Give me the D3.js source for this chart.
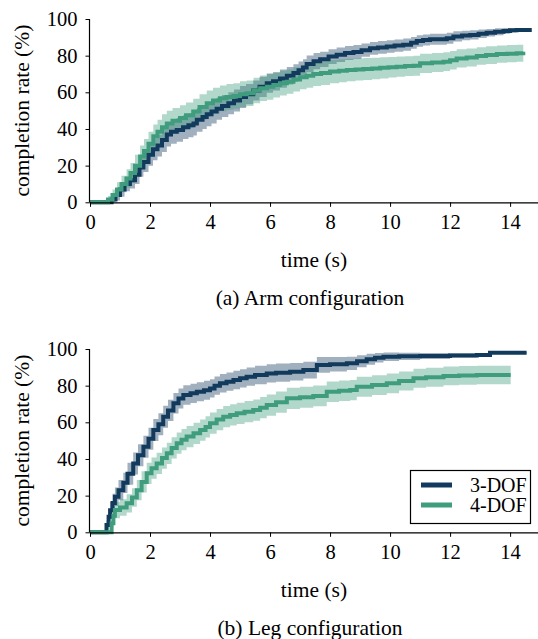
<!DOCTYPE html>
<html><head><meta charset="utf-8">
<script src="https://cdn.jsdelivr.net/npm/d3@7"></script>
<style>
body{margin:0;background:#fff;}
svg text{font-family:"Liberation Serif","Times New Roman",serif;fill:#000;}
</style></head><body>
<svg id="c" width="538" height="639"></svg>
<script>
// ---------- data ----------
const xTicks = [0, 2, 4, 6, 8, 10, 12, 14];
const yTicks = [0, 20, 40, 60, 80, 100];
const seriesNames = ["3-DOF", "4-DOF"];
const panelCaptions = ["(a) Arm configuration", "(b) Leg configuration"];

// Arm, 3-DOF
const arm3T = [0,0.72,0.85,1.0,1.15,1.33,1.5,1.65,1.78,1.95,2.1,2.25,2.4,2.56,2.7,2.89,3.1,3.28,3.45,3.56,3.75,3.89,4.05,4.22,4.4,4.61,4.8,5.0,5.2,5.44,5.65,5.89,6.1,6.33,6.56,6.78,6.95,7.1,7.22,7.45,7.67,7.95,8.22,8.5,8.78,9.05,9.33,9.6,9.89,10.15,10.44,10.7,10.89,11.1,11.33,11.89,12.11,12.4,12.67,12.95,13.22,13.5,13.78,14.0,14.22,14.72];
const arm3V = [0,1.5,4,7,10,12,15,19,22,26,29,31,34,37,38.5,39.5,41,42,43,45,46.5,48,49.5,51,52.5,54,55.5,57.5,59,61,63,65,66,67.5,69,70.5,72,73.5,75.5,77,78,79.5,80.5,81.5,82,83,84,84.5,85,85.5,86,87,88,88.5,89,89.5,90.5,91,91.3,92,92.5,93,93.5,93.8,94,94];
const arm3E = [0,1.5,3,4,4,4.5,5,5,5.5,6,6,6,6.5,6.5,6.5,6.5,6.5,6.5,6.5,6.5,6.5,6.5,6.5,6,6,6,6,6,5.5,5.5,5.5,5.2,5,5,4.8,4.8,4.8,4.6,4.6,4.4,4.2,4,4,3.8,3.8,3.6,3.5,3.5,3.4,3.3,3.3,3.2,3.2,3,3,3,2.8,2.6,2.5,2.3,2.1,1.9,1.6,1.2,0.8,0.4];

// Arm, 4-DOF
const arm4T = [0,0.6,0.75,0.9,1.05,1.22,1.35,1.5,1.67,1.8,1.95,2.11,2.25,2.4,2.56,2.75,3.0,3.2,3.44,3.65,3.89,4.1,4.33,4.55,4.78,5.0,5.22,5.45,5.67,5.9,6.11,6.33,6.56,6.78,7.0,7.22,7.44,7.7,8.0,8.3,8.56,8.85,9.11,9.4,9.67,9.95,10.22,10.5,10.78,11.0,11.4,11.78,12.0,12.22,12.55,12.89,13.2,13.56,13.9,14.22,14.44];
const arm4V = [0,1.5,4,7,10,13,16,20,25,28,32,36,38.5,41,43,44.5,46,47.5,49.5,52,54,55.5,56.7,57.5,58,59,59.5,61,62.2,63,64,65,65.8,67,68.2,69,70,70.5,71.3,71.8,72.2,72.5,72.7,73,73.4,73.7,74,74.3,74.5,75.8,76.3,76.7,77.5,78.5,79,79.8,80.3,80.9,81.1,81.3,82.2];
const arm4E = [0,2,3,4,4.5,5,5.5,6,6,6.5,6.5,6.5,6.5,7,7,7,7,7,7,7,7,7,7,7,7,7,7,7,7,7,6.8,6.8,6.6,6.6,6.5,6.5,6.5,6.5,6.3,6.3,6.1,6,6,5.9,5.8,5.6,5.5,5.4,5.4,5.3,5.2,5.1,5,5,4.9,4.8,4.8,4.7,4.7,4.6,4.5];

// Leg, 3-DOF
const leg3T = [0,0.55,0.62,0.67,0.75,0.83,0.95,1.11,1.25,1.44,1.6,1.78,1.95,2.11,2.28,2.44,2.6,2.78,2.95,3.11,3.35,3.56,3.8,4.0,4.15,4.33,4.55,4.78,5.0,5.22,5.5,5.89,6.2,6.67,7.11,7.56,8.0,8.56,8.9,9.22,9.5,9.78,10.3,11.0,12.0,12.89,13.33,14.55];
const leg3V = [0,4,8.5,12,16,19.4,23,27,32,37.6,42,46.7,51,55.8,59,63,66.5,70.4,73,74.9,75.8,76.7,77.5,78.5,80,81.3,82.2,83.1,84,84.9,85.8,86.7,87.1,87.6,88.5,91.3,91.7,92.2,93.3,94.4,95.2,95.8,96,96.2,96.5,96.7,98,98];
const leg3E = [0,2.5,4,4.5,5,5,5.5,5.5,6,6,6,6,6,6,6,6,5.8,5.6,5.5,5.3,5.2,5.2,5.2,5,5,5,5,5,5,5,5,5,5,4.8,4.6,4.3,4,3.6,3.3,3,2.6,2.3,2,1.6,1.2,0.8,0.4,0.2];

// Leg, 4-DOF
const leg4T = [0,0.72,0.78,0.83,1.0,1.22,1.4,1.56,1.72,1.89,2.05,2.22,2.4,2.56,2.72,2.89,3.05,3.22,3.45,3.67,3.85,4.0,4.22,4.44,4.67,4.89,5.15,5.44,5.67,5.89,6.2,6.56,7.0,7.44,7.89,8.3,8.67,8.89,9.4,9.89,10.3,10.78,11.2,11.78,12.3,12.89,14.02];
const leg4V = [0,5,9,12.2,13.5,15.8,19,23,27.5,32.2,35,37.6,40.5,43.1,46,48.6,50.5,52.2,54,55.8,57.5,59.5,61.5,63.1,64,64.9,65.8,66.7,68,69.4,71,73.1,73.7,74.4,76.7,77.2,77.6,79.4,80.3,81.3,82.5,84,84.6,85.3,85.6,85.8,85.8];
const leg4E = [0,2.5,4,4.5,4.5,5,5,5.5,5.8,5.8,5.8,5.8,5.8,5.8,5.8,5.8,5.8,5.8,5.8,5.8,5.8,5.8,5.8,5.8,5.8,5.8,5.8,5.8,5.8,5.8,5.8,5.8,5.7,5.7,5.6,5.6,5.5,5.5,5.4,5.4,5.2,5.2,5.2,5.1,5.1,5,5];

const colors = ["#123a5c", "#3f9d7d"];

// ---------- drawing ----------
const svg = d3.select("#c");
const X0 = 90, X1 = 538;
const panels = [
  {top: 19, bottom: 202.3, series: [[arm3T, arm3V, arm3E], [arm4T, arm4V, arm4E]], caption: panelCaptions[0], legend: false},
  {top: 349, bottom: 532.3, series: [[leg3T, leg3V, leg3E], [leg4T, leg4V, leg4E]], caption: panelCaptions[1], legend: true}
];

panels.forEach(p => {
  const x = d3.scaleLinear().domain([0, 14.93]).range([X0, X1]);
  const y = d3.scaleLinear().domain([0, 100]).range([p.bottom, p.top]);
  const g = svg.append("g");

  p.series.forEach((s, i) => {
    const pts = s[0].map((t, k) => ({t, v: s[1][k], e: s[2][k]}));
    const area = d3.area().curve(d3.curveStepAfter)
      .x(d => x(d.t)).y0(d => y(Math.max(0, d.v - d.e))).y1(d => y(Math.min(100, d.v + d.e)));
    g.append("path").datum(pts).attr("d", area)
      .attr("fill", colors[i]).attr("fill-opacity", 0.4);
  });
  p.series.forEach((s, i) => {
    const pts = s[0].map((t, k) => ({t, v: s[1][k]}));
    const line = d3.line().curve(d3.curveStepAfter).x(d => x(d.t)).y(d => y(d.v));
    g.append("path").datum(pts).attr("d", line)
      .attr("fill", "none").attr("stroke", colors[i]).attr("stroke-width", 4);
  });

  // x axis
  const xa = g.append("g").attr("transform", `translate(0,${p.bottom})`);
  xa.call(d3.axisBottom(x).tickValues(d3.range(0, 14.93, 0.5)).tickSize(2.5).tickFormat(""));
  xa.call(d3.axisBottom(x).tickValues(xTicks).tickSize(4.5).tickPadding(8).tickFormat(d3.format("d")));
  xa.selectAll(".domain").attr("d", `M${X0},0.5H${X1}`);
  xa.selectAll("text").attr("font-size", 20.5).attr("font-family", "Liberation Serif");
  // y axis
  const ya = g.append("g").attr("transform", `translate(${X0},0)`);
  ya.call(d3.axisLeft(y).tickValues(d3.range(0, 101, 5)).tickSize(2.5).tickFormat(""));
  ya.call(d3.axisLeft(y).tickValues(yTicks).tickSize(4.5).tickPadding(8).tickFormat(d3.format("d")));
  ya.selectAll(".domain").attr("d", `M-0.5,${p.bottom}V${p.top}`);
  ya.selectAll("text").attr("font-size", 20.5).attr("font-family", "Liberation Serif");
  g.selectAll(".domain").attr("stroke", "#000").attr("stroke-width", 1.2);
  g.selectAll(".tick line").attr("stroke", "#000").attr("stroke-width", 1);

  g.append("text").attr("x", 314).attr("y", p.bottom + 65).attr("text-anchor", "middle")
    .attr("font-size", 21.5).text("time (s)");
  g.append("text").attr("transform", `translate(29,${(p.top + p.bottom) / 2}) rotate(-90)`)
    .attr("text-anchor", "middle").attr("font-size", 21.5).text("completion rate (%)");
  g.append("text").attr("x", 310).attr("y", p.bottom + 102.5).attr("text-anchor", "middle")
    .attr("font-size", 21.5).text(p.caption);

  if (p.legend) {
    const lg = g.append("g");
    lg.append("rect").attr("x", 410.5).attr("y", 470.5).attr("width", 120).attr("height", 53)
      .attr("fill", "#fff").attr("stroke", "#000").attr("stroke-width", 1.2);
    seriesNames.forEach((n, i) => {
      const yy = 485 + i * 20;
      lg.append("line").attr("x1", 421).attr("x2", 452).attr("y1", yy).attr("y2", yy)
        .attr("stroke", colors[i]).attr("stroke-width", 5);
      lg.append("text").attr("x", 470).attr("y", yy).attr("dy", "0.35em")
        .attr("font-size", 20).text(n);
    });
  }
});
</script>
</body></html>
